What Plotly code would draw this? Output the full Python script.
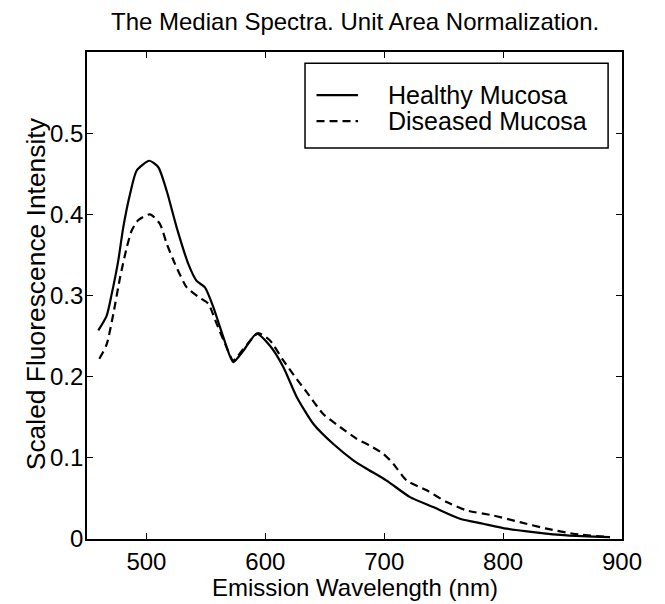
import plotly.graph_objects as go

healthy_x = [459.5, 466.5, 470.8, 476.3, 480.5, 486.2, 491.8, 502.4, 510, 517, 525.4, 535.2, 542.2,
             549.2, 556.2, 564.6, 573, 581.5, 592.7, 603.9, 615.1, 626.4, 640.3, 657.2, 674, 685.2,
             702, 721.7, 741.3, 763.7, 783.3, 803, 825.4, 853.5, 889.9]
healthy_y = [0.257, 0.275, 0.302, 0.343, 0.384, 0.425, 0.454, 0.466, 0.458, 0.429, 0.384, 0.339, 0.318,
             0.310, 0.286, 0.249, 0.218, 0.232, 0.253, 0.238, 0.212, 0.175, 0.142, 0.117, 0.097, 0.0866,
             0.072, 0.0516, 0.0393, 0.025, 0.0188, 0.0127, 0.0085, 0.0044, 0.0023]

diseased_x = [460.4, 466.6, 472.1, 477.8, 483.4, 487.6, 493.2, 503, 511.4, 517, 524, 533.9, 545, 552,
              559.1, 567.5, 573, 581.5, 594, 603.9, 615.1, 626.4, 634.8, 648.7, 662.8, 676.8, 688,
              699.2, 707.6, 718.9, 735.7, 752.5, 769.3, 791.7, 814.2, 836.6, 859, 889.9]
diseased_y = [0.222, 0.240, 0.277, 0.322, 0.359, 0.380, 0.393, 0.400, 0.388, 0.364, 0.339, 0.310, 0.297,
              0.290, 0.265, 0.236, 0.220, 0.234, 0.2536, 0.2446, 0.220, 0.197, 0.181, 0.154, 0.138,
              0.1235, 0.115, 0.105, 0.0927, 0.072, 0.060, 0.0455, 0.0352, 0.029, 0.0208, 0.0127,
              0.0065, 0.0023]

series_names = ["Healthy Mucosa", "Diseased Mucosa"]
x_ticks = [500, 600, 700, 800, 900]
y_ticks = [0, 0.1, 0.2, 0.3, 0.4, 0.5]
y_tick_text = ["0", "0.1", "0.2", "0.3", "0.4", "0.5"]

FONT = "Liberation Sans, Arial, Helvetica, sans-serif"
FS = 24
DASH = "8px,5px"

fig = go.Figure()
fig.add_trace(go.Scatter(x=healthy_x, y=healthy_y, mode="lines", name=series_names[0], showlegend=False,
                         line=dict(color="black", width=2.2, shape="spline", smoothing=0.6)))
fig.add_trace(go.Scatter(x=diseased_x, y=diseased_y, mode="lines", name=series_names[1], showlegend=False,
                         line=dict(color="black", width=2.2, dash=DASH, shape="spline", smoothing=0.6)))

axis_common = dict(showgrid=False, zeroline=False, showline=True, linecolor="black", linewidth=1.8,
                   mirror="ticks", ticks="inside", ticklen=6, tickcolor="black", tickwidth=1,
                   tickfont=dict(family=FONT, size=FS, color="black"))

fig.update_layout(
    width=665, height=604,
    margin=dict(l=87, r=43, t=52, b=65),
    paper_bgcolor="white", plot_bgcolor="white",
    font=dict(family=FONT, color="black"),
    showlegend=False,
    xaxis=dict(range=[450, 900], tickvals=x_ticks, ticklabelstandoff=0, **axis_common),
    yaxis=dict(range=[0, 0.6], tickvals=y_ticks, ticktext=y_tick_text, ticklabelstandoff=-3, **axis_common),
)

# title
fig.add_annotation(text="The Median Spectra. Unit Area Normalization.", xref="paper", yref="paper",
                   x=0.5, y=(538.6 - 22) / 486.6, xanchor="center", yanchor="middle", showarrow=False,
                   font=dict(family=FONT, size=FS, color="black"))
# axis titles
fig.add_annotation(text="Emission Wavelength (nm)", xref="paper", yref="paper", x=0.5,
                   y=(538.6 - 587) / 486.6, xanchor="center", yanchor="middle", showarrow=False,
                   font=dict(family=FONT, size=FS, color="black"))
fig.add_annotation(text="Scaled Fluorescence Intensity", xref="paper", yref="paper", x=-0.096, y=0.504,
                   xanchor="center", yanchor="middle", textangle=-90, showarrow=False,
                   font=dict(family=FONT, size=26.4, color="black"))

# legend (drawn manually to get the tight line spacing)
fig.add_shape(type="rect", xref="paper", yref="paper", x0=0.4075, x1=0.974, y0=0.8027, y1=0.9768,
              line=dict(color="black", width=1.5), fillcolor="white", layer="above")
legend_rows = [(0.9116, None), (0.8582, DASH)]
for name, (yy, dash) in zip(series_names, legend_rows):
    fig.add_shape(type="line", xref="paper", yref="paper", x0=0.429, x1=0.5065, y0=yy, y1=yy,
                  line=dict(color="black", width=2.2, dash=dash), layer="above")
    fig.add_annotation(text=name, xref="paper", yref="paper", x=0.558, y=yy, xanchor="left",
                       yanchor="middle", showarrow=False, font=dict(family=FONT, size=25, color="black"))

fig.write_html("out.html")
